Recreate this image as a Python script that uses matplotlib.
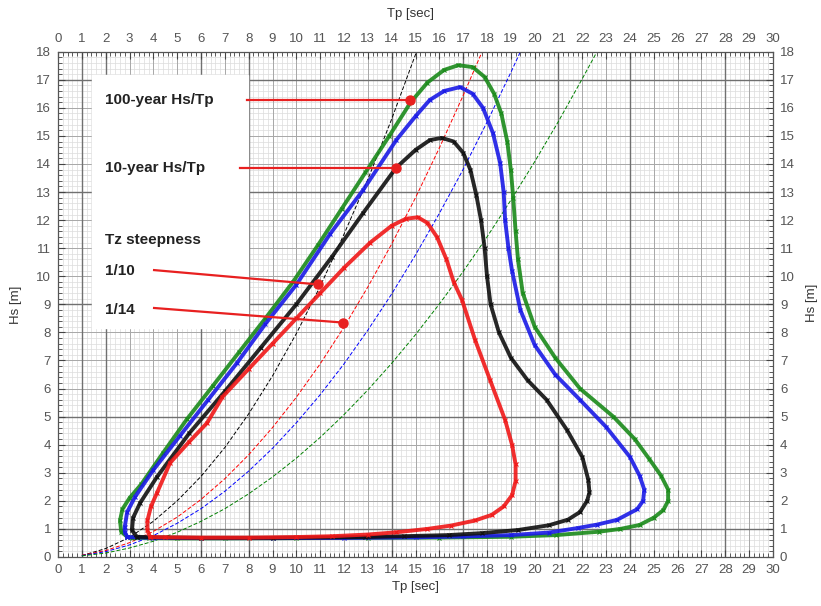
"""Hs/Tp environmental contours with Tz steepness lines."""

import matplotlib

matplotlib.use("Agg")
import matplotlib.pyplot as plt
from matplotlib.ticker import MultipleLocator

plt.rcParams["font.family"] = ["Liberation Sans", "DejaVu Sans"]

# contour point clouds, traced around each loop (Tp [s], Hs [m])
red_tp = [3.86, 3.75, 3.75, 3.9, 4.15, 4.7, 5.5, 6.25, 6.9, 8.0, 9.0, 10.0, 11.0,
          12.0, 13.1, 14.0, 14.6, 15.1, 15.5, 15.9, 16.3, 16.6, 16.95, 17.5, 18.13,
          18.76, 19.05, 19.2, 19.2, 19.05, 18.7, 18.2, 17.5, 16.5, 15.5, 14.2, 13.0,
          11.5, 10.0, 8.0, 6.0, 4.5, 3.86]
red_hs = [0.71, 0.95, 1.3, 1.8, 2.28, 3.35, 4.1, 4.77, 5.7, 6.7, 7.6, 8.5, 9.4,
          10.3, 11.2, 11.8, 12.05, 12.1, 11.9, 11.4, 10.6, 9.8, 9.16, 7.73, 6.3,
          4.88, 4.0, 3.3, 2.7, 2.2, 1.8, 1.5, 1.3, 1.12, 1.0, 0.88, 0.8,
          0.74, 0.71, 0.69, 0.69, 0.7, 0.71]

black_tp = [3.3, 3.1, 3.15, 3.44, 4.15, 5.5, 7.0, 8.5, 10.0, 11.5, 12.8, 14.18,
            15.0, 15.6, 16.1, 16.6, 17.0, 17.3, 17.55, 17.75, 17.9, 18.0, 18.15,
            18.5, 19.0, 19.7, 20.5, 21.36, 22.0, 22.25, 22.3, 22.2, 21.9, 21.4,
            20.6, 19.3, 17.8, 16.4, 14.5, 12.9, 9.0, 6.0, 4.0, 3.3]
black_hs = [0.72, 0.96, 1.4, 1.92, 2.85, 4.4, 5.9, 7.45, 9.0, 10.7, 12.25, 13.86,
            14.5, 14.85, 14.93, 14.8, 14.4, 13.8, 12.9, 12.0, 11.0, 10.0, 9.0,
            8.0, 7.1, 6.3, 5.6, 4.52, 3.56, 2.75, 2.3, 2.0, 1.6, 1.33,
            1.13, 0.96, 0.85, 0.78, 0.74, 0.71, 0.68, 0.68, 0.7, 0.72]

blue_tp = [2.9, 2.8, 2.8, 2.9, 3.23, 4.0, 5.1, 6.3, 7.5, 8.7, 10.0, 11.41, 12.8,
           14.2, 15.0, 15.6, 16.2, 16.87, 17.4, 17.83, 18.25, 18.55, 18.7, 18.76,
           18.9, 19.05, 19.4, 20.0, 20.86, 21.9, 23.0, 24.0, 24.4, 24.6, 24.55,
           24.3, 23.45, 22.6, 21.8, 20.6, 19.0, 17.0, 15.0, 12.0, 9.0, 6.0, 4.0, 2.9]
blue_hs = [0.71, 0.9, 1.07, 1.6, 2.14, 3.1, 4.3, 5.6, 6.9, 8.3, 9.7, 11.5, 13.07,
           14.86, 15.7, 16.28, 16.6, 16.74, 16.5, 16.0, 15.1, 14.04, 13.0, 12.0,
           11.0, 10.2, 8.8, 7.55, 6.5, 5.6, 4.63, 3.56, 2.9, 2.4, 2.0,
           1.7, 1.32, 1.15, 1.03, 0.87, 0.78, 0.73, 0.7, 0.68, 0.67, 0.67, 0.68, 0.71]

green_tp = [2.9, 2.65, 2.6, 2.7, 3.0, 3.5, 4.4, 5.4, 6.5, 7.6, 8.7, 9.86, 10.9, 11.9,
            12.9, 13.9, 14.8, 15.5, 16.2, 16.8, 17.4, 17.9, 18.3, 18.6, 18.85, 19.0,
            19.1, 19.2, 19.3, 19.5, 20.0, 20.86, 21.9, 23.3, 24.2, 24.8, 25.3, 25.6,
            25.6, 25.4, 25.0, 24.4, 23.6, 22.7, 20.9, 19.0, 16.0, 13.0, 10.0, 7.0,
            5.0, 3.8, 3.1, 2.9]
green_hs = [0.72, 0.9, 1.3, 1.7, 2.1, 2.6, 3.7, 4.9, 6.1, 7.3, 8.5, 9.8, 11.1, 12.4,
            13.7, 15.0, 16.2, 16.9, 17.35, 17.52, 17.45, 17.1, 16.5, 15.8, 14.8, 13.8,
            12.8, 11.6, 10.6, 9.4, 8.2, 7.1, 6.0, 5.0, 4.2, 3.5, 2.9, 2.4,
            2.0, 1.67, 1.4, 1.14, 1.0, 0.9, 0.78, 0.72, 0.69, 0.68, 0.67, 0.66,
            0.66, 0.67, 0.68, 0.72]

# Tz steepness lines
steep_tp = [1, 2, 3, 4, 5, 6, 7, 8, 9, 10, 11, 12, 13, 14, 15, 16, 17, 18, 19, 20, 21, 22, 23]
steep_10 = [0.05, 0.3, 0.7, 1.27, 2.0, 2.87, 3.9, 5.1, 6.45, 7.96, 9.64, 11.5, 13.45,
            15.6, 17.9, 20.4]
steep_14 = [0.06, 0.23, 0.51, 0.91, 1.42, 2.05, 2.79, 3.64, 4.61, 5.69, 6.88, 8.19,
            9.62, 11.15, 12.8, 14.57, 16.44, 18.4]
steep_blue = [0.05, 0.19, 0.43, 0.76, 1.2, 1.72, 2.34, 3.06, 3.87, 4.78, 5.78, 6.88,
              8.08, 9.37, 10.76, 12.24, 13.81, 15.49, 17.26, 19.1]
steep_green = [0.04, 0.14, 0.32, 0.56, 0.88, 1.27, 1.72, 2.25, 2.85, 3.52, 4.26, 5.07,
               5.95, 6.9, 7.92, 9.01, 10.17, 11.4, 12.71, 14.08, 15.52, 17.04, 18.6]

# annotation labels, line starts and marker points
ann_text = ["100-year Hs/Tp", "10-year Hs/Tp", "1/10", "1/14"]
ann_text_y = [16.28, 13.86, 10.19, 8.8]
ann_start = [(7.93, 16.28), (7.64, 13.86), (4.03, 10.22), (4.03, 8.87)]
ann_dot = [(14.77, 16.28), (14.18, 13.86), (10.91, 9.71), (11.96, 8.35)]

fig = plt.figure(figsize=(8.21, 6.06), dpi=100)
ax = fig.add_axes([0.0707, 0.0809, 0.8708, 0.8338])
ax.set_xlim(0, 30)
ax.set_ylim(0, 18)

# grid: fine, unit, and a few heavier lines
for v in [i * 0.2 for i in range(151)]:
    ax.axvline(v, color="#dcdcdc", lw=0.5, zorder=0)
for v in [i * 0.2 for i in range(91)]:
    ax.axhline(v, color="#dcdcdc", lw=0.5, zorder=0)
for v in range(31):
    ax.axvline(v, color="#a8a8a8", lw=0.7, zorder=0)
for v in range(19):
    ax.axhline(v, color="#a8a8a8", lw=0.7, zorder=0)
for v in [1, 2, 6, 8, 14, 17, 21, 24, 28]:
    ax.axvline(v, color="#707070", lw=1.0, zorder=0)
for v in [1, 5, 9, 13, 17]:
    ax.axhline(v, color="#707070", lw=1.0, zorder=0)

dash = dict(lw=0.7, ls=(0, (4, 2)), zorder=2)
ax.plot(steep_tp[:len(steep_10)], steep_10, color="black", **dash)
ax.plot(steep_tp[:len(steep_14)], steep_14, color="red", **dash)
ax.plot(steep_tp[:len(steep_blue)], steep_blue, color="blue", **dash)
ax.plot(steep_tp[:len(steep_green)], steep_green, color="green", **dash)

for tp, hs, c in [(green_tp, green_hs, "#1a8a1a"), (blue_tp, blue_hs, "#1a1ae6"),
                  (black_tp, black_hs, "#101010"), (red_tp, red_hs, "#f01818")]:
    ax.plot(tp, hs, color=c, lw=2.8, alpha=0.9, zorder=3,
            solid_joinstyle="round", solid_capstyle="round")
    ax.plot(tp, hs, ls="none", marker="x", ms=3.5, mew=0.8, color=c, zorder=3)

# white label panel
ax.fill([1.43, 7.97, 7.97, 1.43], [17.17, 17.17, 8.16, 8.16], color="white", zorder=4)
for t, y in zip(ann_text, ann_text_y):
    ax.text(1.97, y, t, fontsize=11, fontweight="bold", color="#222222",
            va="center", ha="left", zorder=5)
ax.text(1.97, 11.29, "Tz steepness", fontsize=11, fontweight="bold",
        color="#222222", va="center", ha="left", zorder=5)
for (x0, y0), (x1, y1) in zip(ann_start, ann_dot):
    ax.plot([x0, x1], [y0, y1], color="#e82020", lw=1.6, zorder=6)
    ax.plot(x1, y1, "o", color="#e82020", ms=6.5, zorder=6)

ax.xaxis.set_major_locator(MultipleLocator(1))
ax.xaxis.set_minor_locator(MultipleLocator(0.2))
ax.yaxis.set_major_locator(MultipleLocator(1))
ax.yaxis.set_minor_locator(MultipleLocator(0.2))
ax.tick_params(which="both", direction="in", top=True, right=True,
               labeltop=True, labelright=True, color="#444444")
ax.tick_params(which="major", length=5, width=0.8, labelsize=9.5,
               labelcolor="#555555", pad=5)
ax.tick_params(which="minor", length=3, width=0.6)
for s in ax.spines.values():
    s.set_color("#555555")
    s.set_linewidth(0.9)

ax.set_xlabel("Tp [sec]", fontsize=9.5, color="#333333", labelpad=4)
ax.set_ylabel("Hs [m]", fontsize=9.5, color="#333333", labelpad=10)
fig.text(0.5, 0.977, "Tp [sec]", fontsize=9.5, color="#333333", ha="center", va="center")
fig.text(0.989, 0.5, "Hs [m]", fontsize=9.5, color="#333333", ha="center",
         va="center", rotation=90)

fig.savefig("out.png", dpi=100)
